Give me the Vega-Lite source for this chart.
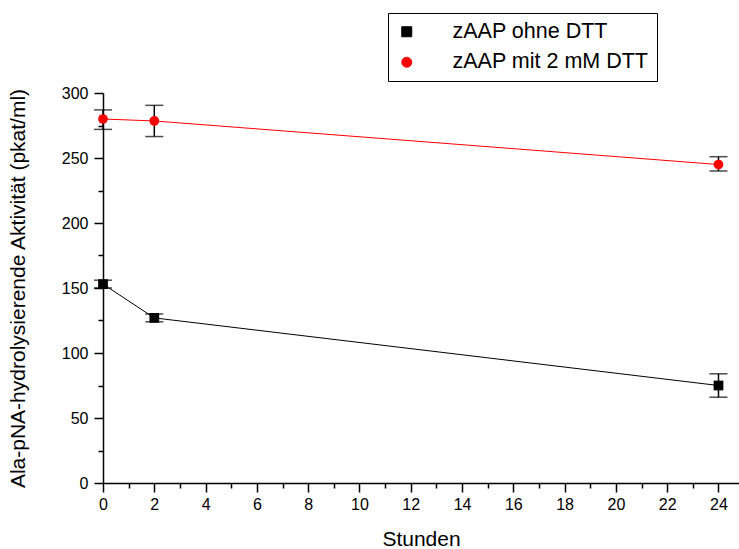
{
  "$schema": "https://vega.github.io/schema/vega-lite/v6.json",
  "width": 636,
  "height": 390,
  "autosize": {"type": "none"},
  "padding": {"left": 103, "top": 93, "right": 0, "bottom": 66},
  "config": {
    "font": "Liberation Sans",
    "view": {"stroke": null},
    "axis": {"grid": false, "labelFlush": false, "domainColor": "black", "tickColor": "black", "labelColor": "black", "titleColor": "black", "domainWidth": 1.5, "tickWidth": 1.5, "labelFont": "Liberation Sans", "titleFont": "Liberation Sans", "titleFontWeight": "normal"}
  },
  "data": {
    "values": [
      {"series": "zAAP ohne DTT", "t": 0, "y": 153, "lo": 150, "hi": 156},
      {"series": "zAAP ohne DTT", "t": 2, "y": 127, "lo": 124, "hi": 130},
      {"series": "zAAP ohne DTT", "t": 24, "y": 75, "lo": 66, "hi": 84},
      {"series": "zAAP mit 2 mM DTT", "t": 0, "y": 280, "lo": 272, "hi": 287},
      {"series": "zAAP mit 2 mM DTT", "t": 2, "y": 278.5, "lo": 266.5, "hi": 290.5},
      {"series": "zAAP mit 2 mM DTT", "t": 24, "y": 245, "lo": 240, "hi": 251}
    ]
  },
  "resolve": {"axis": {"x": "independent", "y": "independent"}},
  "layer": [
    {
      "mark": {"type": "line", "strokeWidth": 1},
      "encoding": {
        "x": {"field": "t", "type": "quantitative", "scale": {"domain": [0, 24.8], "nice": false, "zero": false},
              "axis": {"orient": "bottom", "values": [1,3,5,7,9,11,13,15,17,19,21,23], "labels": false, "domain": false, "tickSize": 5, "title": null}},
        "y": {"field": "y", "type": "quantitative", "scale": {"domain": [0, 300], "nice": false},
              "axis": {"orient": "left", "values": [25,75,125,175,225,275], "labels": false, "domain": false, "tickSize": 5, "title": null}},
        "color": {"field": "series", "type": "nominal", "scale": {"domain": ["zAAP ohne DTT", "zAAP mit 2 mM DTT"], "range": ["black", "#ff0000"]}},
        "detail": {"field": "series"}
      }
    },
    {
      "mark": {"type": "errorbar", "ticks": {"size": 18, "thickness": 1.5, "color": "black"}, "rule": {"strokeWidth": 1.5, "color": "black"}},
      "encoding": {
        "x": {"field": "t", "type": "quantitative", "scale": {"domain": [0, 24.8], "nice": false, "zero": false}, "axis": null},
        "y": {"field": "lo", "type": "quantitative", "scale": {"domain": [0, 300], "nice": false}, "axis": null},
        "y2": {"field": "hi"},
        "detail": {"field": "series"}
      }
    },
    {
      "mark": {"type": "point", "filled": true, "opacity": 1, "size": 95},
      "encoding": {
        "x": {"field": "t", "type": "quantitative", "scale": {"domain": [0, 24.8], "nice": false, "zero": false},
              "axis": {"orient": "bottom", "values": [0,2,4,6,8,10,12,14,16,18,20,22,24], "tickSize": 9, "labelFontSize": 16, "labelPadding": 4, "title": "Stunden", "titleFontSize": 21, "titlePadding": 16}},
        "y": {"field": "y", "type": "quantitative", "scale": {"domain": [0, 300], "nice": false},
              "axis": {"orient": "left", "values": [0,50,100,150,200,250,300], "tickSize": 9, "labelFontSize": 16, "labelPadding": 6, "title": "Ala-pNA-hydrolysierende Aktivität (pkat/ml)", "titleFontSize": 21, "titlePadding": 33}},
        "color": {"field": "series", "type": "nominal", "scale": {"domain": ["zAAP ohne DTT", "zAAP mit 2 mM DTT"], "range": ["black", "#ff0000"]},
                  "legend": {"title": null, "orient": "none", "legendX": 285, "legendY": -80, "strokeColor": "black", "fillColor": "white", "padding": 8, "symbolSize": 100, "symbolStrokeWidth": 1, "symbolOpacity": 1, "labelFontSize": 21.5, "labelColor": "black", "labelOffset": 35, "labelLimit": 400, "rowPadding": 7.5,
                             "labelExpr": "datum.label + '      '"}},
        "shape": {"field": "series", "type": "nominal", "scale": {"domain": ["zAAP ohne DTT", "zAAP mit 2 mM DTT"], "range": ["square", "circle"]}}
      }
    }
  ]
}
